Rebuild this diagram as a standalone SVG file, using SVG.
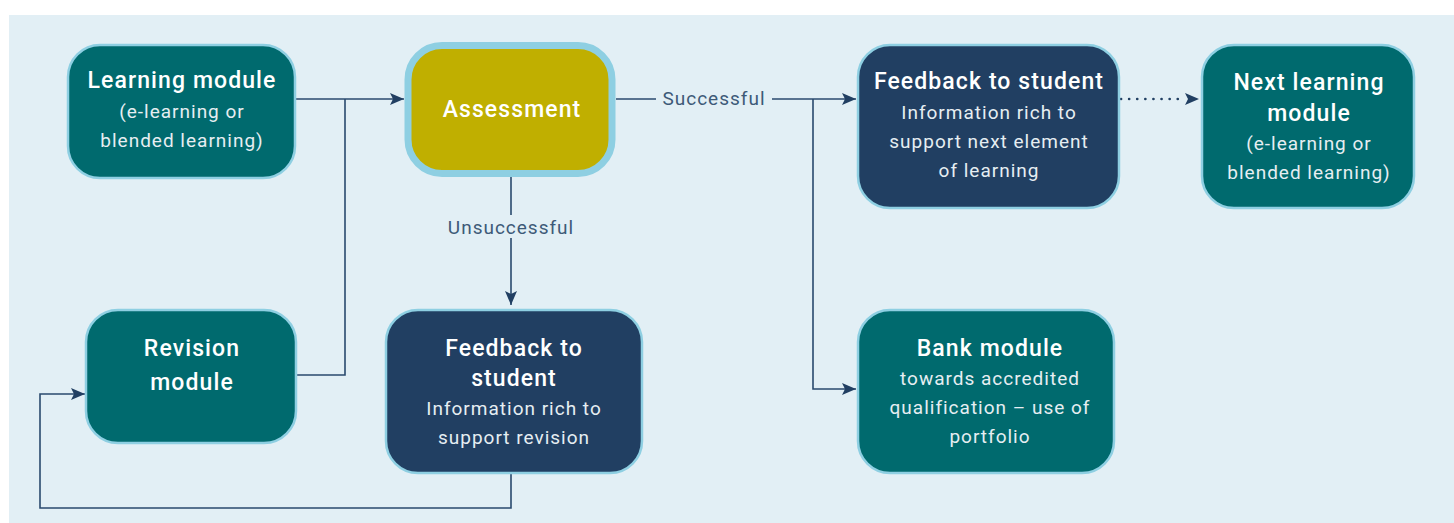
<svg xmlns="http://www.w3.org/2000/svg" width="1454" height="523" viewBox="0 0 1454 523">
<defs>
<marker id="ah" viewBox="0 0 14 12" refX="14" refY="6" markerWidth="14" markerHeight="12" markerUnits="userSpaceOnUse" orient="auto">
<path d="M0,0 L14,6 L0,12 L3,6 Z" fill="#213f62"/>
</marker>
<style>
.node{stroke:#8ecfe2;stroke-width:2.5}
.teal{fill:#006a6e}
.navy{fill:#213f62}
.t{font-family:Roboto,"Liberation Sans",sans-serif;font-weight:500;font-size:23px;letter-spacing:1.1px;fill:#ffffff;text-anchor:middle}
.s{font-family:Roboto,"Liberation Sans",sans-serif;font-weight:400;font-size:19px;letter-spacing:1px;fill:#e6eef2;text-anchor:middle}
.lbl{font-family:Roboto,"Liberation Sans",sans-serif;font-weight:400;font-size:19px;letter-spacing:1px;fill:#3d5a78;text-anchor:middle}
.c{fill:none;stroke:#2a4a6e;stroke-width:1.6}
</style>
</defs>
<rect x="9" y="15" width="1445" height="508" fill="#e2eff5"/>
<g id="connectors">
<path class="c" d="M296,99 H404" marker-end="url(#ah)"/>
<path class="c" d="M297,375 H345 V99"/>
<path class="c" d="M616,99 H656"/>
<path class="c" d="M772,99 H856" marker-end="url(#ah)"/>
<path class="c" d="M813,99 V389 H856" marker-end="url(#ah)"/>
<path class="c" d="M511,177 V215"/>
<path class="c" d="M511,238 V305" marker-end="url(#ah)"/>
<path class="c" d="M511,474 V508 H40 V394 H85" marker-end="url(#ah)"/>
<path d="M1121,99 H1184" fill="none" stroke="#213f62" stroke-width="2.6" stroke-linecap="round" stroke-dasharray="0.1 8"/>
<path d="M1182,99 H1199" fill="none" stroke="none" marker-end="url(#ah)"/>
<text class="lbl" x="714" y="105">Successful</text>
<text class="lbl" x="511" y="234">Unsuccessful</text>
</g>
<g id="learning-module">
<rect class="node teal" x="68" y="45" width="227" height="133" rx="32"/>
<text class="t" x="182" y="88">Learning module</text>
<text class="s" x="182" y="118">(e-learning or</text>
<text class="s" x="182" y="147">blended learning)</text>
</g>
<g id="assessment">
<rect x="408" y="45.5" width="204" height="128" rx="34" fill="#c0af00" stroke="#8ecfe2" stroke-width="7"/>
<text class="t" x="512" y="117">Assessment</text>
</g>
<g id="feedback-success">
<rect class="node navy" x="858" y="45" width="261" height="163" rx="32"/>
<text class="t" x="989" y="89">Feedback to student</text>
<text class="s" x="989" y="119">Information rich to</text>
<text class="s" x="989" y="148">support next element</text>
<text class="s" x="989" y="177">of learning</text>
</g>
<g id="next-learning-module">
<rect class="node teal" x="1202" y="45" width="212" height="163" rx="32"/>
<text class="t" x="1309" y="90">Next learning</text>
<text class="t" x="1309" y="121">module</text>
<text class="s" x="1309" y="150">(e-learning or</text>
<text class="s" x="1309" y="179">blended learning)</text>
</g>
<g id="revision-module">
<rect class="node teal" x="86" y="310" width="210" height="133" rx="32"/>
<text class="t" x="192" y="356">Revision</text>
<text class="t" x="192" y="390">module</text>
</g>
<g id="feedback-revision">
<rect class="node navy" x="386" y="310" width="256" height="163" rx="32"/>
<text class="t" x="514" y="356">Feedback to</text>
<text class="t" x="514" y="386">student</text>
<text class="s" x="514" y="415">Information rich to</text>
<text class="s" x="514" y="444">support revision</text>
</g>
<g id="bank-module">
<rect class="node teal" x="858" y="310" width="256" height="163" rx="32"/>
<text class="t" x="990" y="356">Bank module</text>
<text class="s" x="990" y="385">towards accredited</text>
<text class="s" x="990" y="414">qualification – use of</text>
<text class="s" x="990" y="443">portfolio</text>
</g>
</svg>
